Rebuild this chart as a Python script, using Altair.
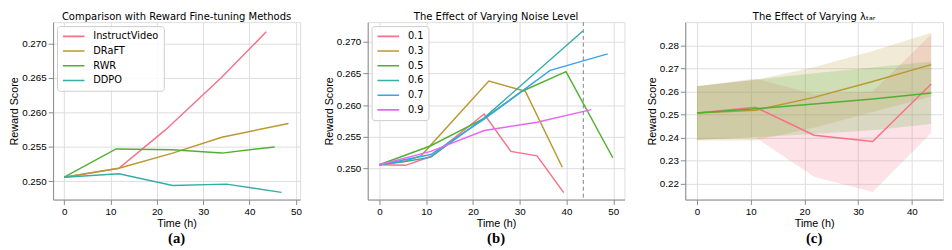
import altair as alt
import pandas as pd

FONT = "DejaVu Sans"
COLORS6 = ["#f77189", "#bb9832", "#50b131", "#36ada4", "#3ba3ec", "#e866f4"]

# ---------------- Panel (a) data ----------------
a_methods = ["InstructVideo", "DRaFT", "RWR", "DDPO"]
a_instruct_t = [0, 11.8, 21.9, 34.0, 43.6]
a_instruct_v = [0.2506, 0.2519, 0.2575, 0.2651, 0.2717]
a_draft_t = [0, 11.8, 23.4, 34.0, 48.4]
a_draft_v = [0.2506, 0.2519, 0.2541, 0.2564, 0.2584]
a_rwr_t = [0, 11.2, 23.4, 34.0, 45.4]
a_rwr_v = [0.2506, 0.2547, 0.2546, 0.2541, 0.2550]
a_ddpo_t = [0, 11.8, 23.4, 35.0, 46.9]
a_ddpo_v = [0.2506, 0.2511, 0.2494, 0.2496, 0.2484]
a_xticks = [0, 10, 20, 30, 40, 50]
a_yticks = [0.250, 0.255, 0.260, 0.265, 0.270]

# ---------------- Panel (b) data ----------------
b_levels = ["0.1", "0.3", "0.5", "0.6", "0.7", "0.9"]
b_01_t = [0, 5.6, 11, 22.4, 28.1, 33.7, 39.4]
b_01_v = [0.2506, 0.2505, 0.2519, 0.2586, 0.2527, 0.2520, 0.2462]
b_03_t = [0, 5.6, 8.9, 23.4, 31.2, 39.1]
b_03_v = [0.2506, 0.2512, 0.2520, 0.2638, 0.2622, 0.2502]
b_05_t = [0, 11, 22.4, 30.5, 39.9, 49.9]
b_05_v = [0.2506, 0.2536, 0.2579, 0.2622, 0.2653, 0.2517]
b_06_t = [0, 5.6, 11, 22.4, 43.5]
b_06_v = [0.2506, 0.2511, 0.2518, 0.2580, 0.2717]
b_07_t = [0, 11, 22.4, 36.5, 48.8]
b_07_v = [0.2506, 0.2522, 0.2578, 0.2655, 0.2681]
b_09_t = [0, 11, 22.4, 33.7, 45.3]
b_09_v = [0.2506, 0.2527, 0.2560, 0.2573, 0.2593]
b_marker_t = [43.6]
b_xticks = [0, 10, 20, 30, 40, 50]
b_yticks = [0.250, 0.255, 0.260, 0.265, 0.270]

# ---------------- Panel (c) data ----------------
c_lambdas = ["0.5", "1.0", "2.0"]
c_t = [0, 10.9, 21.8, 32.7, 43.6]
c_05_mean = [0.2507, 0.2532, 0.2411, 0.2384, 0.2633]
c_05_hi = [0.2623, 0.2657, 0.2590, 0.2600, 0.2848]
c_05_lo = [0.2391, 0.2402, 0.2231, 0.2165, 0.2420]
c_10_mean = [0.2507, 0.2519, 0.2575, 0.2644, 0.2717]
c_10_hi = [0.2623, 0.2651, 0.2706, 0.2776, 0.2855]
c_10_lo = [0.2388, 0.2388, 0.2443, 0.2512, 0.2579]
c_20_mean = [0.2507, 0.2526, 0.2546, 0.2568, 0.2594]
c_20_hi = [0.2623, 0.2651, 0.2679, 0.2704, 0.2731]
c_20_lo = [0.2391, 0.2402, 0.2416, 0.2432, 0.2460]
c_xticks = [0, 10, 20, 30, 40]
c_yticks = [0.22, 0.23, 0.24, 0.25, 0.26, 0.27, 0.28]

titles = ["Comparison with Reward Fine-tuning Methods",
          "The Effect of Varying Noise Level",
          "The Effect of Varying \u03bb\u209c\u2090\u1d63"]
captions = ["(a)", "(b)", "(c)"]

H = 181
WA, WB, WC = 252, 262, 263


def frame(key, name, ts, vs):
    return pd.DataFrame({key: name, "t": ts, "v": vs})


df_a = pd.concat([frame("method", "InstructVideo", a_instruct_t, a_instruct_v),
                  frame("method", "DRaFT", a_draft_t, a_draft_v),
                  frame("method", "RWR", a_rwr_t, a_rwr_v),
                  frame("method", "DDPO", a_ddpo_t, a_ddpo_v)])
df_b = pd.concat([frame("noise", "0.1", b_01_t, b_01_v), frame("noise", "0.3", b_03_t, b_03_v),
                  frame("noise", "0.5", b_05_t, b_05_v), frame("noise", "0.6", b_06_t, b_06_v),
                  frame("noise", "0.7", b_07_t, b_07_v), frame("noise", "0.9", b_09_t, b_09_v)])
df_c = pd.concat([
    pd.DataFrame({"lam": "0.5", "t": c_t, "v": c_05_mean, "lo": c_05_lo, "hi": c_05_hi}),
    pd.DataFrame({"lam": "1.0", "t": c_t, "v": c_10_mean, "lo": c_10_lo, "hi": c_10_hi}),
    pd.DataFrame({"lam": "2.0", "t": c_t, "v": c_20_mean, "lo": c_20_lo, "hi": c_20_hi}),
])


def legend():
    return alt.Legend(title=None, orient="top-left", offset=4, symbolType="stroke",
                      symbolSize=484, symbolStrokeWidth=1.6, labelFontSize=10,
                      labelFont=FONT, labelColor="black", labelOffset=8,
                      fillColor="rgba(255,255,255,0.85)", strokeColor="#cccccc",
                      cornerRadius=3, padding=5, rowPadding=4, clipHeight=11)


def xenc(domain, ticks):
    return alt.X("t:Q", scale=alt.Scale(domain=domain, nice=False, zero=False),
                 axis=alt.Axis(values=ticks, format="d", title="Time (h)",
                               titleFontWeight=400, titlePadding=1))


def yenc(domain, ticks, fmt, field="v"):
    return alt.Y(f"{field}:Q", scale=alt.Scale(domain=domain, nice=False, zero=False),
                 axis=alt.Axis(values=ticks, format=fmt, title="Reward Score",
                               titleFontWeight=400, titlePadding=2))


def caption(text, w):
    return alt.Chart(pd.DataFrame({"label": [text]})).mark_text(
        font="Liberation Serif", fontWeight="bold", fontSize=15, baseline="middle",
        color="black").encode(x=alt.value(w / 2), y=alt.value(H + 39), text="label:N")


def ttl(text):
    return alt.TitleParams(text=text, font=FONT, fontSize=10.2, fontWeight=400,
                           color="black", offset=0)


# Panel a
a_lines = alt.Chart(df_a).mark_line(strokeWidth=1.5).encode(
    x=xenc([-2.4, 50.9], a_xticks),
    y=yenc([0.24736, 0.2731], a_yticks, ".3f"),
    color=alt.Color("method:N", scale=alt.Scale(domain=a_methods, range=COLORS6[:4]),
                    legend=legend()),
)
panel_a = alt.layer(a_lines, caption(captions[0], WA)).properties(
    width=WA, height=H, title=ttl(titles[0]))

# Panel b
b_lines = alt.Chart(df_b).mark_line(strokeWidth=1.5).encode(
    x=xenc([-2.5, 52.4], b_xticks),
    y=yenc([0.2451, 0.2731], b_yticks, ".3f"),
    color=alt.Color("noise:N", scale=alt.Scale(domain=b_levels, range=COLORS6),
                    legend=legend()),
)
b_rule = alt.Chart(pd.DataFrame({"t": b_marker_t})).mark_rule(
    color="#808080", strokeDash=[4, 3], strokeWidth=1).encode(x="t:Q")
panel_b = alt.layer(b_lines, b_rule, caption(captions[1], WB)).properties(
    width=WB, height=H, title=ttl(titles[1]))

# Panel c
c_x = xenc([-2.18, 45.8], c_xticks)
c_band = alt.Chart(df_c).mark_area(opacity=0.2).encode(
    x=c_x,
    y=yenc([0.2132, 0.2901], c_yticks, ".2f", field="lo"),
    y2="hi:Q",
    fill=alt.Fill("lam:N", scale=alt.Scale(domain=c_lambdas, range=COLORS6[:3]),
                  legend=None),
)
c_lines = alt.Chart(df_c).mark_line(strokeWidth=1.5).encode(
    x=c_x,
    y=yenc([0.2132, 0.2901], c_yticks, ".2f"),
    color=alt.Color("lam:N", scale=alt.Scale(domain=c_lambdas, range=COLORS6[:3]),
                    legend=legend()),
)
panel_c = alt.layer(c_band, c_lines, caption(captions[2], WC)).properties(
    width=WC, height=H, title=ttl(titles[2]))

chart = alt.hconcat(panel_a, panel_b, panel_c, spacing=21).resolve_scale(
    color="independent", fill="independent"
).resolve_legend(color="independent").properties(
    padding={"left": 0, "top": 0, "right": 0, "bottom": 0}
).configure_axis(
    labelFont=FONT, labelFontSize=7.5, labelColor="black", labelPadding=2,
    titleFont=FONT, titleFontSize=11.5, titleColor="black",
    gridColor="#d6d6d6", gridWidth=1, tickColor="black", tickSize=3.5, domain=False,
).configure_view(
    stroke="#333333", strokeWidth=1
).configure(background="white")

chart.save("out.html", embed_options={"renderer": "svg", "actions": False})
